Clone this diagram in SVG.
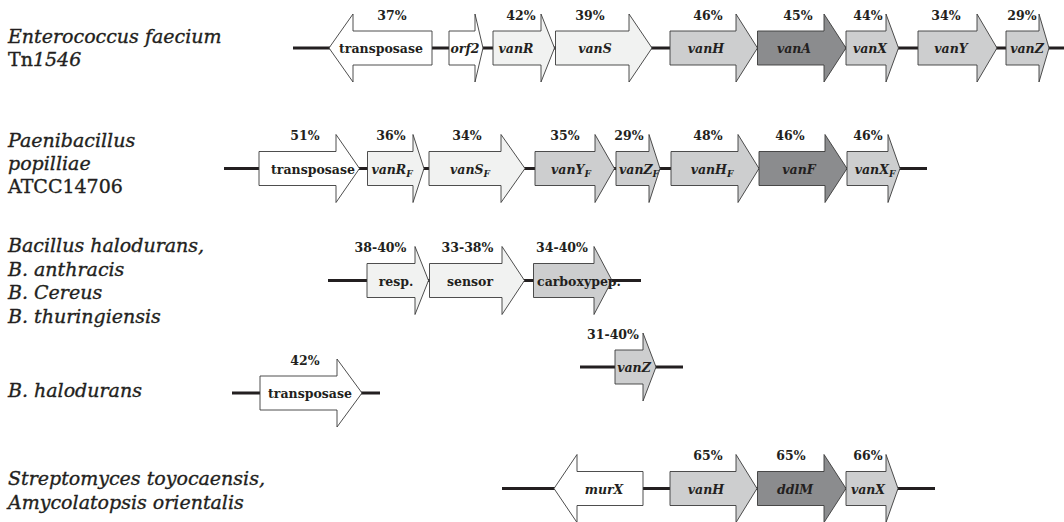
<svg xmlns="http://www.w3.org/2000/svg" width="1064" height="522" viewBox="0 0 1064 522">
<style>
.bb{stroke:#231f20;stroke-width:3.2;fill:none}
.g{stroke:#3a3a3a;stroke-width:0.9;stroke-linejoin:miter}
.w{fill:#ffffff}.l{fill:#f1f2f1}.m{fill:#cdcecf}.d{fill:#8b8c8e}
.sp{font-family:"DejaVu Serif",serif;font-size:19px;font-style:italic;fill:#231f20;stroke:#231f20;stroke-width:0.35}
.up{font-style:normal}
.pc{font-family:"DejaVu Serif",serif;font-size:12.5px;font-weight:bold;text-anchor:middle;fill:#231f20}
.gl{font-family:"DejaVu Serif",serif;font-size:12.5px;font-weight:bold;text-anchor:middle;fill:#231f20}
.it{font-style:italic}
.sub{font-size:9px}
</style>
<rect width="1064" height="522" fill="#ffffff"/>

<g id="species">
<text class="sp" x="8" y="43">Enterococcus faecium</text>
<text class="sp" x="8" y="66"><tspan class="up">Tn</tspan>1546</text>
<text class="sp" x="8" y="147">Paenibacillus</text>
<text class="sp" x="8" y="170">popilliae</text>
<text class="sp up" x="8" y="193">ATCC14706</text>
<text class="sp" x="8" y="252">Bacillus halodurans,</text>
<text class="sp" x="8" y="275.5">B. anthracis</text>
<text class="sp" x="8" y="299">B. Cereus</text>
<text class="sp" x="8" y="322.5">B. thuringiensis</text>
<text class="sp" x="8" y="397">B. halodurans</text>
<text class="sp" x="8" y="485">Streptomyces toyocaensis,</text>
<text class="sp" x="8" y="509">Amycolatopsis orientalis</text>
</g>

<g id="connectors">
<line class="bb" x1="293" y1="48" x2="1064" y2="48"/>
<line class="bb" x1="224" y1="168.5" x2="927" y2="168.5"/>
<line class="bb" x1="328" y1="280.5" x2="641" y2="280.5"/>
<line class="bb" x1="580" y1="367" x2="683" y2="367"/>
<line class="bb" x1="232" y1="393" x2="380" y2="393"/>
<line class="bb" x1="502" y1="488.5" x2="935" y2="488.5"/>
</g>

<!-- Row 1 -->
<g id="r1-transposase">
<polygon class="g w" points="432,31 353,31 353,14 329,48 353,82 353,65 432,65"/>
<text class="gl" x="381" y="53">transposase</text>
<text class="pc" x="392" y="19.5">37%</text>
</g>
<g id="r1-orf2">
<polygon class="g w" points="449,31 475,31 475,14 483,48 475,82 475,65 449,65"/>
<text class="gl it" x="465" y="53">orf2</text>
</g>
<g id="r1-vanR">
<polygon class="g l" points="493,31 541,31 541,14 554.5,48 541,82 541,65 493,65"/>
<text class="gl it" x="516" y="53">vanR</text>
<text class="pc" x="521" y="19.5">42%</text>
</g>
<g id="r1-vanS">
<polygon class="g l" points="555.5,31 629,31 629,14 652,48 629,82 629,65 555.5,65"/>
<text class="gl it" x="595" y="53">vanS</text>
<text class="pc" x="590" y="19.5">39%</text>
</g>
<g id="r1-vanH">
<polygon class="g m" points="670,31 736,31 736,14 757.5,48 736,82 736,65 670,65"/>
<text class="gl it" x="706" y="53">vanH</text>
<text class="pc" x="708" y="19.5">46%</text>
</g>
<g id="r1-vanA">
<polygon class="g d" points="757.5,31 824,31 824,14 846,48 824,82 824,65 757.5,65"/>
<text class="gl it" x="794" y="53">vanA</text>
<text class="pc" x="798" y="19.5">45%</text>
</g>
<g id="r1-vanX">
<polygon class="g m" points="846,31 886,31 886,14 898.5,48 886,82 886,65 846,65"/>
<text class="gl it" x="870" y="53">vanX</text>
<text class="pc" x="868" y="19.5">44%</text>
</g>
<g id="r1-vanY">
<polygon class="g m" points="918,31 977,31 977,14 997,48 977,82 977,65 918,65"/>
<text class="gl it" x="951" y="53">vanY</text>
<text class="pc" x="946" y="19.5">34%</text>
</g>
<g id="r1-vanZ">
<polygon class="g m" points="1006,31 1039,31 1039,14 1049,48 1039,82 1039,65 1006,65"/>
<text class="gl it" x="1027" y="53">vanZ</text>
<text class="pc" x="1022" y="19.5">29%</text>
</g>

<!-- Row 2 -->
<g id="r2-transposase">
<polygon class="g w" points="259,151.5 336,151.5 336,134.5 359.5,168.5 336,202.5 336,185.5 259,185.5"/>
<text class="gl" x="313" y="173.5">transposase</text>
<text class="pc" x="305" y="140">51%</text>
</g>
<g id="r2-vanRF">
<polygon class="g l" points="367.5,151.5 413,151.5 413,134.5 424,168.5 413,202.5 413,185.5 367.5,185.5"/>
<text class="gl it" x="392" y="173.5">vanR<tspan class="sub" dy="3">F</tspan></text>
<text class="pc" x="391" y="140">36%</text>
</g>
<g id="r2-vanSF">
<polygon class="g l" points="429,151.5 501,151.5 501,134.5 525,168.5 501,202.5 501,185.5 429,185.5"/>
<text class="gl it" x="470" y="173.5">vanS<tspan class="sub" dy="3">F</tspan></text>
<text class="pc" x="467" y="140">34%</text>
</g>
<g id="r2-vanYF">
<polygon class="g m" points="535,151.5 595,151.5 595,134.5 614.5,168.5 595,202.5 595,185.5 535,185.5"/>
<text class="gl it" x="571" y="173.5">vanY<tspan class="sub" dy="3">F</tspan></text>
<text class="pc" x="565" y="140">35%</text>
</g>
<g id="r2-vanZF">
<polygon class="g m" points="616,151.5 649,151.5 649,134.5 660,168.5 649,202.5 649,185.5 616,185.5"/>
<text class="gl it" x="639" y="173.5">vanZ<tspan class="sub" dy="3">F</tspan></text>
<text class="pc" x="629" y="140">29%</text>
</g>
<g id="r2-vanHF">
<polygon class="g m" points="671,151.5 738,151.5 738,134.5 759,168.5 738,202.5 738,185.5 671,185.5"/>
<text class="gl it" x="712" y="173.5">vanH<tspan class="sub" dy="3">F</tspan></text>
<text class="pc" x="708" y="140">48%</text>
</g>
<g id="r2-vanF">
<polygon class="g d" points="759,151.5 825,151.5 825,134.5 847,168.5 825,202.5 825,185.5 759,185.5"/>
<text class="gl it" x="799" y="173.5">vanF</text>
<text class="pc" x="790" y="140">46%</text>
</g>
<g id="r2-vanXF">
<polygon class="g m" points="847,151.5 888,151.5 888,134.5 900,168.5 888,202.5 888,185.5 847,185.5"/>
<text class="gl it" x="875" y="173.5">vanX<tspan class="sub" dy="3">F</tspan></text>
<text class="pc" x="868" y="140">46%</text>
</g>

<!-- Row 3 -->
<g id="r3-resp">
<polygon class="g l" points="367,263.5 415,263.5 415,246.5 428.5,280.5 415,314.5 415,297.5 367,297.5"/>
<text class="gl" x="396" y="285.5">resp.</text>
<text class="pc" x="380.5" y="252">38-40%</text>
</g>
<g id="r3-sensor">
<polygon class="g l" points="429.5,263.5 502,263.5 502,246.5 524.5,280.5 502,314.5 502,297.5 429.5,297.5"/>
<text class="gl" x="470" y="285.5">sensor</text>
<text class="pc" x="467.5" y="252">33-38%</text>
</g>
<g id="r3-carboxypep">
<polygon class="g m" points="533.5,263.5 594,263.5 594,246.5 612,280.5 594,314.5 594,297.5 533.5,297.5"/>
<text class="gl" x="579" y="285.5">carboxypep.</text>
<text class="pc" x="562" y="252">34-40%</text>
</g>

<!-- Row 4 -->
<g id="r4-vanZ">
<polygon class="g m" points="615,350 643,350 643,333 656,367 643,401 643,384 615,384"/>
<text class="gl it" x="634" y="372">vanZ</text>
<text class="pc" x="613" y="339">31-40%</text>
</g>
<g id="r4-transposase">
<polygon class="g w" points="260,376 337,376 337,359 362,393 337,427 337,410 260,410"/>
<text class="gl" x="310" y="398">transposase</text>
<text class="pc" x="305" y="364.5">42%</text>
</g>

<!-- Row 5 -->
<g id="r5-murX">
<polygon class="g w" points="643,471.5 577,471.5 577,454.5 554,488.5 577,522.5 577,505.5 643,505.5"/>
<text class="gl it" x="604" y="493.5">murX</text>
</g>
<g id="r5-vanH">
<polygon class="g m" points="670,471.5 736,471.5 736,454.5 757,488.5 736,522.5 736,505.5 670,505.5"/>
<text class="gl it" x="706" y="493.5">vanH</text>
<text class="pc" x="708" y="460">65%</text>
</g>
<g id="r5-ddlM">
<polygon class="g d" points="757.5,471.5 824,471.5 824,454.5 846,488.5 824,522.5 824,505.5 757.5,505.5"/>
<text class="gl it" x="795" y="493.5">ddlM</text>
<text class="pc" x="791" y="460">65%</text>
</g>
<g id="r5-vanX">
<polygon class="g m" points="846,471.5 886,471.5 886,454.5 898,488.5 886,522.5 886,505.5 846,505.5"/>
<text class="gl it" x="868" y="493.5">vanX</text>
<text class="pc" x="868" y="460">66%</text>
</g>
</svg>
